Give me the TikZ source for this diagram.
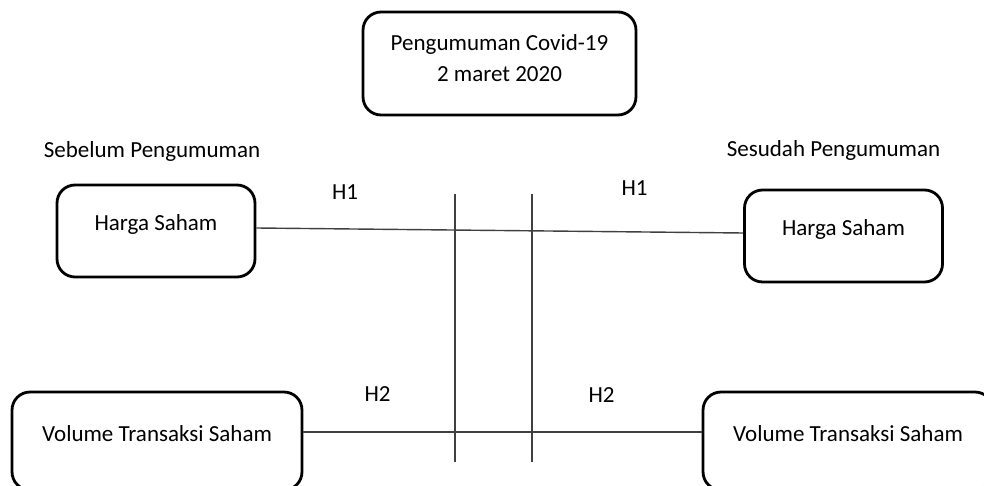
\documentclass[tikz,border=0pt]{standalone}
\usepackage{fontspec}
\setmainfont{Carlito}

\begin{document}
\begin{tikzpicture}[-,x=0.02cm,y=-0.02cm,
	box/.style={rectangle,rounded corners=0.36cm,draw,line width=1.6pt},
	hargabox/.style={box,minimum width=3.96cm,minimum height=1.84cm,text height=1ex,text depth=1ex},
	volbox/.style={box,minimum width=5.8cm,minimum height=1.96cm,text height=1ex,text depth=1ex},
	link/.style={draw=black!75,line width=0.8pt}]
	\tikzstyle{every node}=[font=\fontsize{13.1}{18.2}\selectfont,inner sep=0pt]
	\useasboundingbox (0,0) rectangle (984,486);
	\draw
		(499.5,63.5) node(covid) [box,minimum width=5.46cm,minimum height=2.06cm,align=center,text height=0.94cm,text depth=0.2cm] {Pengumuman Covid-19\\2 maret 2020}
		(156,231)    node(hargaL) [hargabox] {Harga Saham}
		(843.5,236)  node(hargaR) [hargabox] {Harga Saham}
		(157,441)    node(volL) [volbox] {Volume Transaksi Saham}
		(848,441)    node(volR) [volbox] {Volume Transaksi Saham};
	\path
		(152,158)    node(sebelum) [anchor=base] {Sebelum Pengumuman}
		(833.5,157)  node(sesudah) [anchor=base] {Sesudah Pengumuman}
		(345,200)    node(h1L) [anchor=base] {H1}
		(634.5,196)  node(h1R) [anchor=base] {H1}
		(377.5,401)  node(h2L) [anchor=base] {H2}
		(601.5,402)  node(h2R) [anchor=base] {H2};
	\coordinate (barAtop) at (455,194);
	\coordinate (barAbot) at (455,462);
	\coordinate (barBtop) at (532,194);
	\coordinate (barBbot) at (532,462);
	\draw [link] ([yshift=0.06cm]hargaL.east) to ([yshift=0.06cm]hargaR.west);
	\draw [link] ([yshift=0.18cm]volL.east) to ([yshift=0.18cm]volR.west);
	\draw [link] (barAtop) to (barAbot);
	\draw [link] (barBtop) to (barBbot);
\end{tikzpicture}
\end{document}
